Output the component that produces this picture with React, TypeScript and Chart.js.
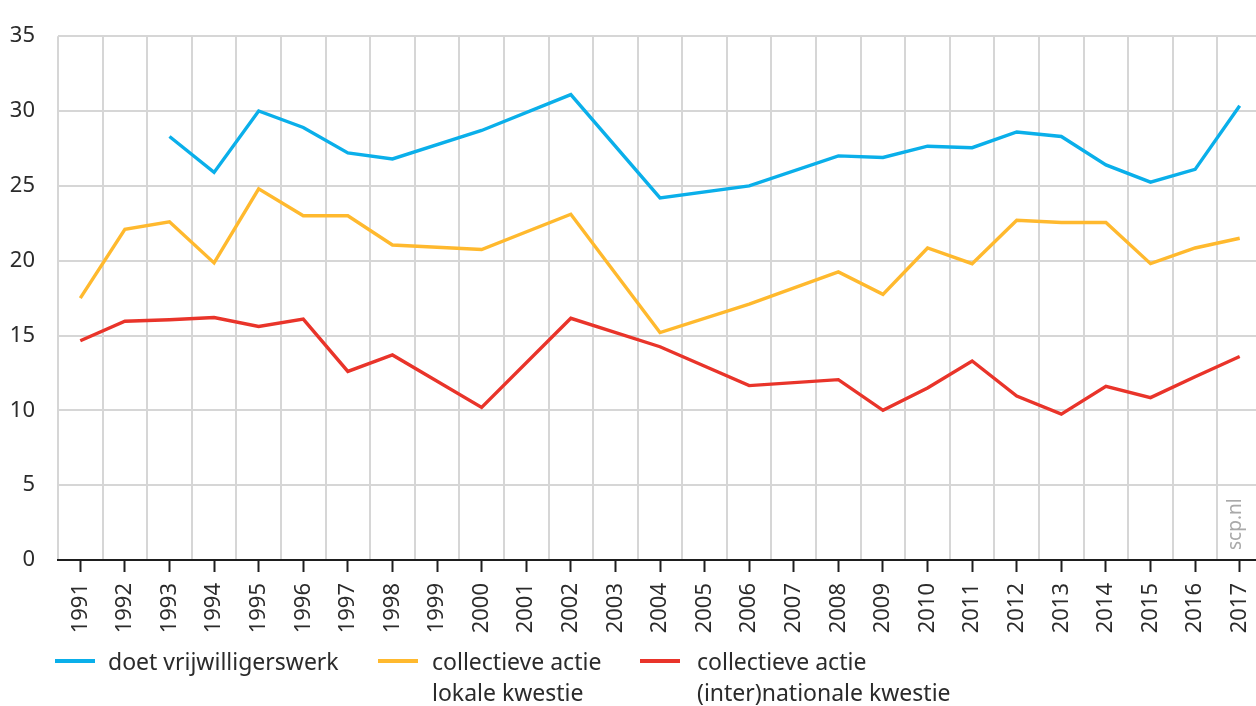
import React, { useEffect, useRef } from "react";
import { Chart, registerables } from "chart.js";

Chart.register(...registerables);

const years = [
  "1991", "1992", "1993", "1994", "1995", "1996", "1997", "1998", "1999",
  "2000", "2001", "2002", "2003", "2004", "2005", "2006", "2007", "2008",
  "2009", "2010", "2011", "2012", "2013", "2014", "2015", "2016", "2017",
];

const vrijwilligerswerk = [
  null, null, 28.3, 25.9, 30.0, 28.9, 27.2, 26.8, null,
  28.7, null, 31.1, null, 24.2, null, 25.0, null, 27.0,
  26.9, 27.65, 27.55, 28.6, 28.3, 26.4, 25.25, 26.1, 30.35,
];

const lokaleKwestie = [
  17.5, 22.1, 22.6, 19.85, 24.8, 23.0, 23.0, 21.05, null,
  20.75, null, 23.1, null, 15.2, null, 17.1, null, 19.25,
  17.75, 20.85, 19.8, 22.7, 22.55, 22.55, 19.8, 20.85, 21.5,
];

const nationaleKwestie = [
  14.65, 15.95, 16.05, 16.2, 15.6, 16.1, 12.6, 13.7, null,
  10.2, null, 16.15, null, 14.25, null, 11.65, null, 12.05,
  10.0, 11.5, 13.3, 10.95, 9.75, 11.6, 10.85, 12.25, 13.6,
];

const seriesLabels = [
  ["doet vrijwilligerswerk"],
  ["collectieve actie", "lokale kwestie"],
  ["collectieve actie", "(inter)nationale kwestie"],
];

const yTicks = [0, 5, 10, 15, 20, 25, 30, 35];

const COLORS = ["#0aafea", "#ffb92e", "#e9342a"];
const FONT = "'Noto Sans', 'Open Sans', sans-serif";
const TEXT = "#2b2b2b";
const GRID = "#d6d6d6";

const CANVAS_W = 1300;
const CANVAS_H = 706;

const watermark = {
  id: "watermark",
  afterDraw(chart: any) {
    const { ctx, chartArea } = chart;
    const xs = chart.scales.x;
    const x = xs.getPixelForTick(years.length - 1) - 4;
    ctx.save();
    ctx.translate(x, chartArea.bottom - 10);
    ctx.rotate(-Math.PI / 2);
    ctx.font = `19px ${FONT}`;
    ctx.fillStyle = "#a9a9a9";
    ctx.textAlign = "left";
    ctx.textBaseline = "middle";
    ctx.fillText("scp.nl", 0, 0);
    ctx.restore();
  },
};

export default function App() {
  const ref = useRef<HTMLCanvasElement | null>(null);

  useEffect(() => {
    const canvas = ref.current;
    if (!canvas) return;
    const datasets = [vrijwilligerswerk, lokaleKwestie, nationaleKwestie].map((d, i) => ({
      label: seriesLabels[i].join(" "),
      data: d,
      borderColor: COLORS[i],
      backgroundColor: COLORS[i],
      borderWidth: 3.4,
      pointRadius: 0,
      pointHoverRadius: 0,
      tension: 0,
      spanGaps: true,
      borderJoinStyle: "miter" as const,
      xAxisID: "x",
      yAxisID: "y",
    }));
    const chart = new Chart(canvas, {
      type: "line",
      data: { labels: years, datasets },
      options: {
        animation: false,
        responsive: false,
        devicePixelRatio: 1,
        layout: { padding: { top: 24, left: 0, right: CANVAS_W - 1262, bottom: 0 } },
        plugins: { legend: { display: false }, tooltip: { enabled: false } },
        scales: {
          x2: {
            type: "category",
            labels: years,
            position: "bottom",
            offset: true,
            grid: { offset: true, color: GRID, lineWidth: 2, drawTicks: false },
            border: { display: false },
            ticks: { display: false },
            afterFit(s: any) {
              s.height = 0;
            },
          },
          x: {
            type: "category",
            position: "bottom",
            offset: true,
            grid: {
              offset: false,
              drawOnChartArea: false,
              drawTicks: true,
              tickLength: 12,
              tickColor: "#1e1e1e",
              tickWidth: 2,
            },
            border: { display: true, color: "#1e1e1e", width: 2 },
            ticks: {
              autoSkip: false,
              minRotation: 90,
              maxRotation: 90,
              padding: 11,
              color: TEXT,
              font: { family: FONT, size: 22 },
            },
            afterFit(s: any) {
              s.height = 146;
            },
          },
          y: {
            min: 0,
            max: 35,
            afterBuildTicks(s: any) {
              s.ticks = yTicks.map((v) => ({ value: v }));
            },
            grid: { color: GRID, lineWidth: 2, drawTicks: false },
            border: { display: false },
            ticks: {
              padding: 23,
              color: TEXT,
              font: { family: FONT, size: 22 },
            },
            afterFit(s: any) {
              s.width = 58;
            },
          },
        },
      },
      plugins: [watermark],
    });
    return () => chart.destroy();
  }, []);

  const legendPos = [
    { line: 55, text: 108 },
    { line: 378, text: 432 },
    { line: 640, text: 697 },
  ];

  return (
    <div
      style={{
        position: "fixed",
        left: 0,
        top: 0,
        width: 1256,
        height: 706,
        overflow: "hidden",
        background: "#fff",
      }}
    >
      <canvas
        ref={ref}
        width={CANVAS_W}
        height={CANVAS_H}
        style={{ position: "absolute", left: 0, top: 0, width: CANVAS_W, height: CANVAS_H }}
      />
      {seriesLabels.map((lines, i) => (
        <div key={i}>
          <div
            style={{
              position: "absolute",
              left: legendPos[i].line,
              top: 659,
              width: 40,
              height: 4,
              background: COLORS[i],
            }}
          />
          <div
            style={{
              position: "absolute",
              left: legendPos[i].text,
              top: 646,
              fontFamily: FONT,
              fontSize: 23,
              lineHeight: "31px",
              color: TEXT,
              whiteSpace: "nowrap",
            }}
          >
            {lines.map((t, j) => (
              <div key={j}>{t}</div>
            ))}
          </div>
        </div>
      ))}
    </div>
  );
}
